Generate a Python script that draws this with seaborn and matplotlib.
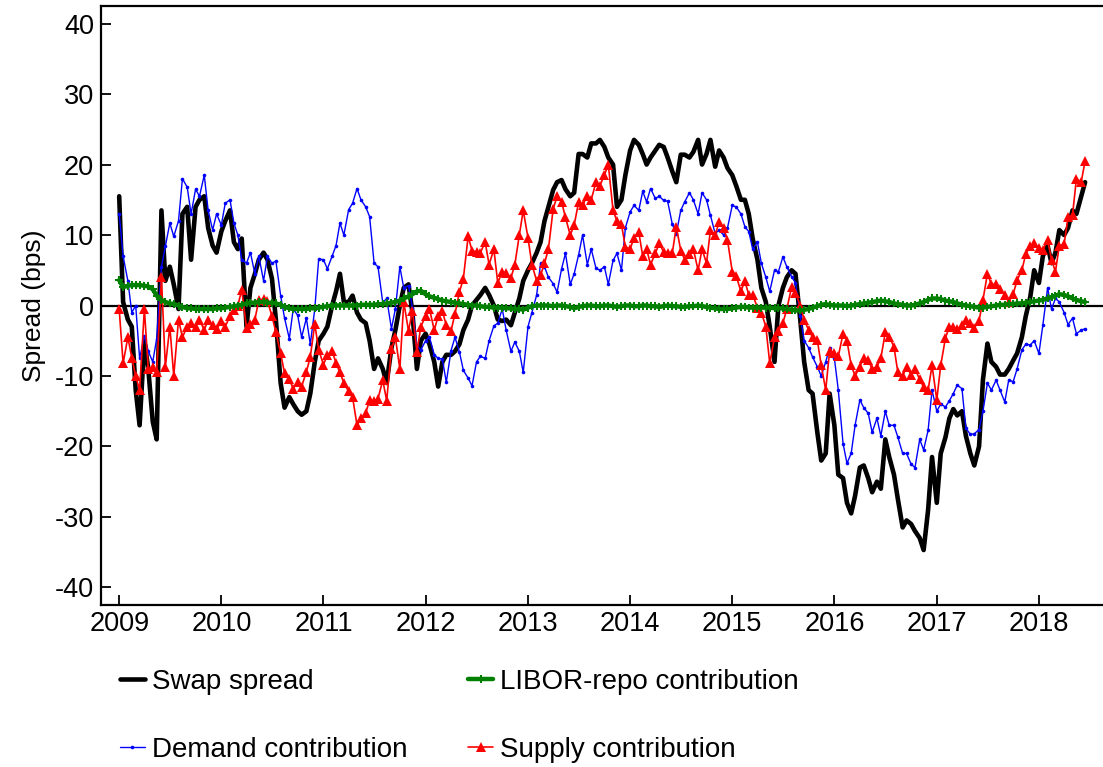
import numpy as np
import pandas as pd
import matplotlib
matplotlib.use("Agg")
import matplotlib.pyplot as plt
import matplotlib.dates as mdates
import seaborn as sns

# semi-monthly observations, Jan 2009 - Jun 2018
dates = pd.date_range("2009-01-01", periods=228, freq="SMS")

swap_spread = [
    15.5, 0.5, -2, -3, -12, -17, -5, -9, -16.5, -19, 13.5, 3.5, 5.5, 3, -0.5, 13, 14, 6.5, 14, 15,
    15.5, 11, 8.5, 7.5, 10.5, 12, 13.5, 9, 8, 9.5, -3, 2.5, 4.5, 6.5, 7.5, 6.5, 3.8, -2, -11, -14.5,
    -13, -14, -15, -15.5, -15, -12.5, -8, -5, -4, -3, 0, 2, 4.5, 0.5, 0.5, 1.4, -1, -2, -2.5, -5,
    -9, -7.5, -9, -11, -6, -3.5, 0, 2.5, 3, -1, -9, -5, -4, -5.5, -8, -11.5, -8, -7, -7, -6.5,
    -5.5, -3.5, -2, 0, 0.8, 1.5, 2.5, 1.5, 0, -2, -2.2, -2, -2.8, -1, 1, 3.5, 5, 6, 7.5, 9,
    12, 14, 16.4, 17.5, 17.8, 16.5, 15.5, 16, 21.5, 21.5, 21, 23, 23, 23.5, 22.5, 21, 20, 14, 15, 18.5,
    22, 23.5, 22.8, 21.5, 20, 21, 22, 22.8, 22.5, 21, 19, 17.5, 21.4, 21.4, 21, 21.8, 23.5, 20, 21.5, 23.5,
    19.7, 22, 21, 19.5, 18.5, 17, 15, 15, 13, 9.5, 6.5, 2.5, 0.5, -3, -8, 0, 2.5, 4, 5, 4.5,
    -2, -8, -12, -12.5, -18, -22, -21, -12.5, -17, -24, -24.5, -28, -29.5, -27, -23, -22.7, -24.5, -26.5, -25, -26,
    -19, -21.5, -24, -27.5, -31.5, -30.5, -31, -32, -33, -34.7, -29, -21.5, -28, -21, -18.7, -16, -14.7, -15.6, -15, -18.5,
    -21, -22.7, -20, -10.5, -5.4, -8, -8.7, -9.8, -9.8, -9, -7.8, -6.8, -4.5, -1.5, 1.2, 5, 3.2, 7, 8.5, 6,
    7.5, 10.7, 10, 11, 13.5, 13, 15.5, 17.5,
]

libor_repo = [
    3.6, 2.6, 2.8, 2.9, 2.9, 2.9, 2.8, 2.7, 2.3, 1.4, 0.8, 0.5, 0.3, 0.2, 0, -0.2, -0.4, -0.4, -0.5, -0.5,
    -0.5, -0.5, -0.5, -0.4, -0.4, -0.3, -0.2, -0.1, 0, 0.1, 0.3, 0.4, 0.4, 0.5, 0.5, 0.4, 0.4, 0.3, 0.1, -0.2,
    -0.4, -0.5, -0.5, -0.5, -0.5, -0.4, -0.4, -0.3, -0.2, -0.1, 0, 0, 0, 0, 0, 0, 0, 0.1, 0.1, 0.1,
    0.1, 0.2, 0.2, 0.3, 0.4, 0.5, 0.7, 1.0, 1.3, 1.6, 2.0, 2.1, 1.6, 1.3, 1.1, 0.9, 0.7, 0.6, 0.5, 0.4,
    0.3, 0.2, 0.1, 0, 0, -0.1, -0.2, -0.2, -0.3, -0.3, -0.3, -0.4, -0.4, -0.5, -0.5, -0.6, -0.3, -0.1, 0, 0,
    0, 0, -0.1, 0, 0, -0.1, -0.2, -0.4, -0.2, -0.1, 0, 0, -0.1, -0.1, 0, 0, -0.1, -0.2, -0.1, 0,
    0, -0.1, -0.1, 0, 0, -0.1, -0.1, -0.2, -0.1, 0, -0.1, -0.1, -0.2, -0.2, -0.1, -0.1, 0, -0.1, -0.2, -0.3,
    -0.4, -0.5, -0.5, -0.5, -0.4, -0.3, -0.2, -0.2, -0.3, -0.3, -0.3, -0.3, -0.3, -0.3, -0.4, -0.4, -0.4, -0.5, -0.6, -0.7,
    -0.7, -0.6, -0.5, -0.3, -0.1, 0.1, 0.2, 0.1, 0, 0, 0, -0.1, 0, 0.1, 0.2, 0.3, 0.4, 0.5, 0.6, 0.7,
    0.6, 0.5, 0.3, 0.2, 0.1, 0, 0, 0.1, 0.3, 0.5, 0.8, 1.0, 1.0, 0.9, 0.7, 0.6, 0.5, 0.3, 0.1, 0,
    -0.1, -0.2, -0.3, -0.3, -0.2, -0.1, 0, 0.1, 0.1, 0.2, 0.2, 0.3, 0.3, 0.4, 0.5, 0.6, 0.7, 0.8, 1.0, 1.2,
    1.4, 1.6, 1.5, 1.3, 1.0, 0.8, 0.6, 0.5,
]

demand = [
    13, 7, 3.5, -1, 0, -7.5, -4.3, -6.5, -8, -4.7, 5.5, 8.4, 11.7, 9.8, 12, 18, 16.8, 13, 16.5, 15.5,
    18.5, 13.5, 10.7, 13, 11.4, 14.5, 15, 11.7, 10, 6.5, 6, 7.5, 4.5, 7, 3.5, 7, 6, 6.3, 1.4, -1.8,
    -4.7, -0.5, -1.4, -4.5, -1.8, -5.5, -0.5, 6.6, 6.5, 5.2, 7, 8.5, 11.7, 10, 13.6, 14.5, 16.6, 15, 14, 12.6,
    6, 5.5, 0.4, 1, -3.3, -0.5, 5.5, 2.5, 2.8, -0.3, -5.7, -6.3, -5, -4.5, -7, -7.5, -7.6, -10.9, -6.4, -4.5,
    -6.6, -9.2, -10.3, -11.4, -8, -7.2, -7.5, -5, -2.9, -2.5, -0.5, -3.5, -6.5, -5.2, -6.5, -9.5, -3, -1, 1.5, 6,
    5.5, 4, 3.1, 1.9, 5.2, 7.4, 3, 4.5, 7.2, 10, 5.8, 8, 5.3, 5, 5.5, 3, 6.4, 7.4, 5, 11,
    13.3, 14.2, 13.5, 16.2, 14.7, 16.6, 15.2, 15.5, 14.9, 14.8, 11.5, 10.2, 13.5, 14.7, 16, 15, 13, 16, 15, 12.8,
    10.2, 10.7, 10, 11, 14.2, 14, 13, 11.2, 10.5, 8, 9, 6, 4, 2, 5, 4.8, 6.9, 5.5, 4.1, 3.2,
    -1.5, -5, -6, -7.3, -8.7, -10, -8, -6, -7.5, -12, -19.6, -22.4, -21, -17, -13.4, -14.5, -15.3, -18, -16, -18.5,
    -15, -17, -17, -18.7, -21, -21, -22.5, -23, -19, -20.5, -17.7, -12, -15, -14, -14.4, -13.5, -12.5, -11.3, -11.8, -17.4,
    -18.3, -18.2, -17.6, -15, -11, -12, -10.6, -12, -13.7, -10.6, -10.8, -9, -6.3, -5.5, -5.6, -5, -6.8, -2.8, 2.5, -0.5,
    1, 0.5, -1, -2.7, -1.8, -4, -3.5, -3.3,
]

supply = [
    -0.5, -8.2, -4.5, -7.4, -10, -12, -0.5, -9, -8.7, -9.5, 4, -8.7, -3, -10, -2, -4.5, -3, -2.5, -3, -2,
    -3.5, -2, -2.8, -3.4, -2.2, -3, -1.5, -0.6, 0, 2.2, -3.2, -2.6, -2, 0.8, 0.9, 0.6, -1.5, -3.8, -6.8, -9.6,
    -10.5, -11.8, -10.8, -11.5, -9.4, -7.3, -2.6, -6.3, -8.4, -7, -6.4, -8.2, -9.5, -11, -12.2, -13, -17, -16, -15.3, -13.4,
    -13.6, -13.2, -10.6, -13.5, -6.2, -4.5, -9, 0.5, -3.6, -0.8, -6.6, -3, -1.5, -0.5, -3.5, -1.5, -0.8, -2.8, -3.6, -1.2,
    1.9, 3.8, 9.8, 7.8, 7.6, 7.5, 9, 5.8, 8, 3.2, 4.8, 4.6, 3.9, 5.8, 10, 13.5, 9.6, 5.8, 3.5, 4.3,
    6, 8, 13.7, 15.5, 14.7, 12.5, 10, 11.4, 14.7, 14.2, 15.6, 15, 17.5, 17, 18.5, 20, 13.5, 12, 11.5, 8.3,
    8, 9.6, 10.4, 7, 8, 5.8, 7.4, 8.8, 7.6, 7.5, 7.5, 11.2, 7.8, 6.5, 7.3, 8, 5, 8, 6, 10.7,
    10, 11.8, 11, 9.3, 4.8, 4.2, 2, 3.5, 1.5, 1.5, -0.3, -1, -3, -8.2, -4.5, -3.6, -2.5, -0.5, 2.6, 1.8,
    0, -2, -3.5, -4.5, -4.9, -8.5, -12, -6.4, -6.8, -7.2, -4, -5, -8.5, -10, -8.7, -7.4, -7.8, -9, -8.7, -7.5,
    -3.8, -4.4, -5.9, -9.5, -10, -8.7, -9.8, -9, -10.5, -11.6, -12, -8.5, -13.4, -8.5, -4.6, -3, -3, -3.4, -2.8, -2.1,
    -2.5, -3.2, -2.2, 0.8, 4.5, 3, 3, 2.3, 1.5, 0.5, 1.6, 3.6, 5, 7.3, 8.4, 8.8, 8.2, 7.9, 9.3, 6.5,
    4.8, 8.5, 8.7, 12.5, 12.8, 18, 17.5, 20.5,
]

series_labels = ["Swap spread", "LIBOR-repo contribution", "Demand contribution", "Supply contribution"]
y_ticks = [-40, -30, -20, -10, 0, 10, 20, 30, 40]
year_ticks = list(range(2009, 2019))

sns.set_style("ticks")
plt.rcParams["font.family"] = ["Liberation Sans", "DejaVu Sans"]
plt.rcParams["text.color"] = "black"
plt.rcParams["axes.labelcolor"] = "black"
plt.rcParams["xtick.color"] = "black"
plt.rcParams["ytick.color"] = "black"
plt.rcParams["axes.edgecolor"] = "black"

fig = plt.figure(figsize=(11.03, 7.67), dpi=100)
ax = fig.add_axes([101 / 1103, 1 - 605 / 767, 1 - 101 / 1103, (605 - 6) / 767])

ax.axhline(0, color="black", lw=1.6, zorder=1)

sns.lineplot(x=dates, y=swap_spread, ax=ax, color="black", lw=3.3,
             label=series_labels[0], zorder=2, estimator=None)
sns.lineplot(x=dates, y=demand, ax=ax, color="#0000ff", lw=1.0, marker="o",
             markersize=2.6, markeredgewidth=0, label=series_labels[2], zorder=3, estimator=None)
sns.lineplot(x=dates, y=supply, ax=ax, color="#ff0000", lw=1.2, marker="^",
             markersize=7, markeredgewidth=0, label=series_labels[3], zorder=4, estimator=None)
sns.lineplot(x=dates, y=libor_repo, ax=ax, color="#008000", lw=3.2, marker="P",
             markersize=5.5, markeredgewidth=0, label=series_labels[1], zorder=5, estimator=None)

ax.set_ylim(-42.5, 42.5)
ax.set_yticks(y_ticks)
ax.set_yticklabels([str(v) for v in y_ticks])
ax.set_xlim(pd.Timestamp("2008-10-28"), pd.Timestamp("2018-08-18"))
ax.set_xticks([pd.Timestamp(f"{y}-01-01") for y in year_ticks])
ax.set_xticklabels([str(y) for y in year_ticks])

ax.set_ylabel("Spread (bps)", fontsize=19, labelpad=6)
ax.set_xlabel("")
ax.tick_params(axis="both", direction="in", length=7.5, width=1.3, labelsize=19.5, pad=4,
               colors="black")
ax.tick_params(axis="y", pad=5)
for side in ["left", "bottom", "top"]:
    ax.spines[side].set_linewidth(1.6)
    ax.spines[side].set_color("black")
ax.spines["right"].set_visible(False)

leg = ax.get_legend()
if leg is not None:
    leg.remove()
h, l = ax.get_legend_handles_labels()
lookup = dict(zip(l, h))
order = [series_labels[0], series_labels[2], series_labels[1], series_labels[3]]
fig.legend([lookup[k] for k in order], order, loc="upper left",
           bbox_to_anchor=(106 / 1103, 1 - 655 / 767), ncol=2, frameon=False,
           fontsize=20, handlelength=0.9, handletextpad=0.25, columnspacing=2.2,
           labelspacing=1.5, borderpad=0)

fig.savefig("out.png", dpi=100)
